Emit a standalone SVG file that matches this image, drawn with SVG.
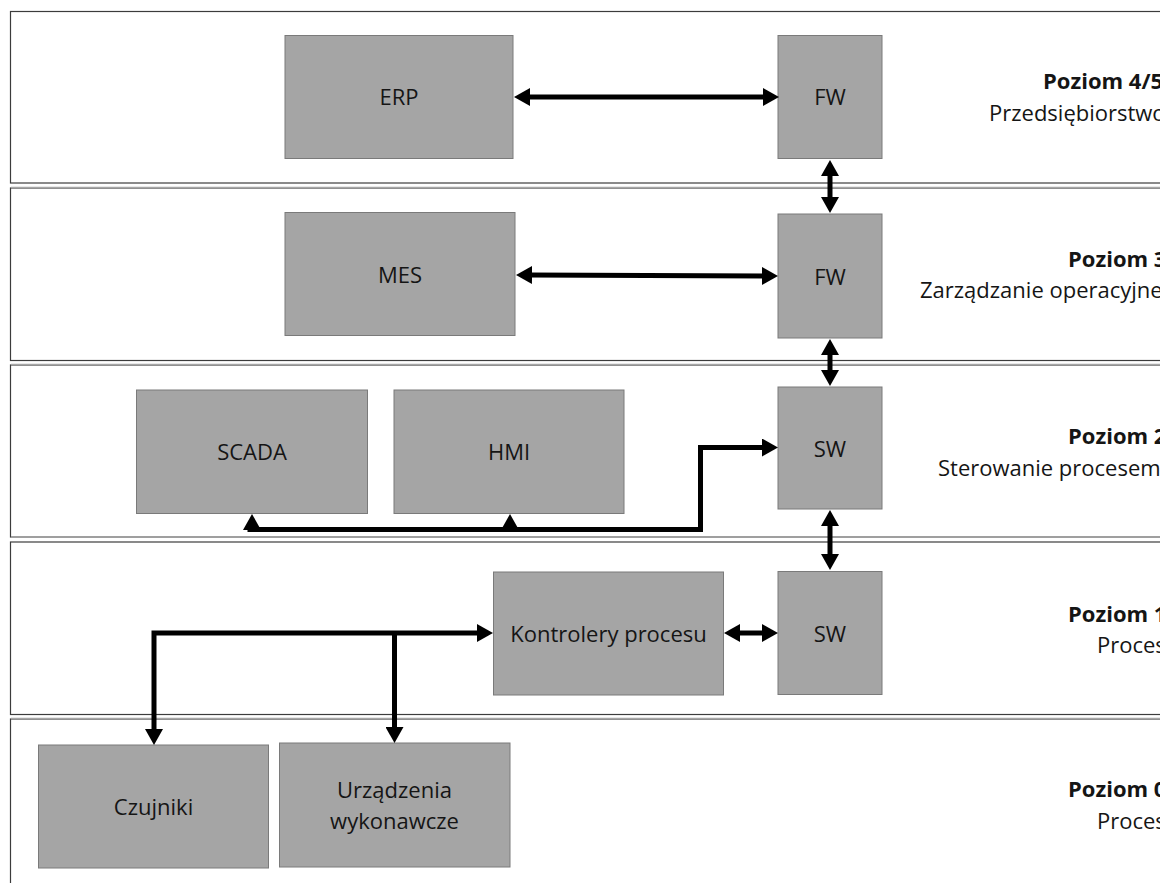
<svg xmlns="http://www.w3.org/2000/svg" width="1160" height="883" viewBox="0 0 1160 883">
  <style>
    .band { fill: #ffffff; stroke: #3c3c3c; stroke-width: 1.2; }
    .edge { stroke: #a6a6a6; stroke-width: 1.6; fill: none; }
    .node rect { fill: #a5a5a5; stroke: #7a7a7a; stroke-width: 1; }
    .node text { font-family: "Open Sans", "Liberation Sans", sans-serif; font-size: 22px; fill: #151515; text-anchor: middle; }
    .lvl { font-family: "Open Sans", "Liberation Sans", sans-serif; font-size: 22px; fill: #151515; }
    .lvl .t { font-weight: bold; }
    .wire { fill: none; stroke: #000000; stroke-width: 5; stroke-linejoin: miter; }
    .dbl { marker-start: url(#head); marker-end: url(#head); }
    .one { marker-end: url(#head); }
  </style>
  <defs>
    <marker id="head" markerUnits="userSpaceOnUse" viewBox="0 0 16 18" markerWidth="16" markerHeight="18" refX="3" refY="9" orient="auto-start-reverse">
      <path d="M0,0 L16,9 L0,18 Z" fill="#000000"/>
    </marker>
  </defs>

  <!-- level bands -->
  <g id="bands">
    <rect class="band" x="10.5" y="11.5" width="1170" height="171.5"/>
    <rect class="band" x="10.5" y="188" width="1170" height="172.5"/>
    <rect class="band" x="10.5" y="365" width="1170" height="172"/>
    <rect class="band" x="10.5" y="542" width="1170" height="172.5"/>
    <rect class="band" x="10.5" y="719" width="1170" height="200"/>
    <path class="edge" d="M11,187.5 H1160 M11,364.5 H1160 M11,537 H1160 M11,718.5 H1160"/>
  </g>

  <!-- level labels -->
  <g id="labels" class="lvl">
    <text class="t" x="1043" y="89">Poziom 4/5</text>
    <text x="989" y="121">Przedsiębiorstwo</text>
    <text class="t" x="1068" y="267">Poziom 3</text>
    <text x="920" y="298">Zarządzanie operacyjne</text>
    <text class="t" x="1068" y="444">Poziom 2</text>
    <text x="938" y="476">Sterowanie procesem</text>
    <text class="t" x="1068" y="622">Poziom 1</text>
    <text x="1097" y="653">Proces</text>
    <text class="t" x="1068" y="797">Poziom 0</text>
    <text x="1097" y="829">Proces</text>
  </g>

  <!-- nodes -->
  <g id="erp" class="node"><rect x="285" y="35.5" width="228" height="123"/><text x="399" y="105">ERP</text></g>
  <g id="fw-top" class="node"><rect x="778" y="35.5" width="104" height="123"/><text x="830" y="105">FW</text></g>
  <g id="mes" class="node"><rect x="285" y="212.5" width="230" height="123"/><text x="400" y="282.5">MES</text></g>
  <g id="fw-mid" class="node"><rect x="778" y="214" width="104" height="124"/><text x="830" y="285">FW</text></g>
  <g id="scada" class="node"><rect x="136.5" y="390" width="231" height="123.5"/><text x="252" y="460">SCADA</text></g>
  <g id="hmi" class="node"><rect x="394" y="390" width="230" height="123.5"/><text x="509" y="460">HMI</text></g>
  <g id="sw-l2" class="node"><rect x="778" y="387" width="104" height="122"/><text x="830" y="456.5">SW</text></g>
  <g id="controllers" class="node"><rect x="493.5" y="572" width="230" height="123"/><text x="608.5" y="641.5">Kontrolery procesu</text></g>
  <g id="sw-l1" class="node"><rect x="778" y="571.5" width="104" height="123"/><text x="830" y="641.5">SW</text></g>
  <g id="sensors" class="node"><rect x="38.5" y="745" width="230" height="123"/><text x="153.5" y="815">Czujniki</text></g>
  <g id="actuators" class="node"><rect x="279.5" y="743" width="230.5" height="124"/><text x="394.5" y="798">Urządzenia</text><text x="394.5" y="829">wykonawcze</text></g>

  <!-- connectors -->
  <g id="connectors">
    <path class="wire dbl" d="M527,97 H766"/>
    <path class="wire dbl" d="M830,173 V200"/>
    <path class="wire dbl" d="M529,275 L765,276"/>
    <path class="wire dbl" d="M830,352 V373"/>
    <path class="wire dbl" d="M830,523 V557"/>
    <path class="wire one" d="M247.5,529.5 H700.5 V447.5 H765"/>
    <path class="wire one" d="M252,530 V527"/>
    <path class="wire one" d="M510,530 V527"/>
    <path class="wire dbl" d="M737,633 H765"/>
    <path class="wire dbl" d="M480,633 H154 V732"/>
    <path class="wire one" d="M394.5,633 V730"/>
  </g>
</svg>
